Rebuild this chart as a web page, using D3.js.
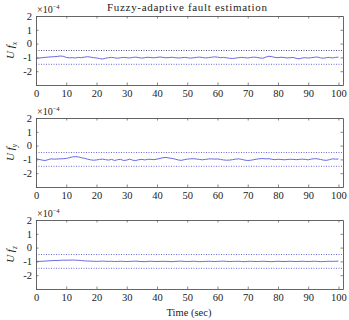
<!DOCTYPE html>
<html lang="en">
  <head>
    <meta charset="UTF-8" />
    <title>Fuzzy-adaptive fault estimation</title>
    <style>
      body { margin: 0; background: #fff; }
      svg text { font-family: "Liberation Serif", "DejaVu Serif", serif; fill: #222; }
    </style>
  </head>
  <body>
    <div id="chart"></div>

    <script src="https://cdn.jsdelivr.net/npm/d3@7"></script>
    <script>

      // time axis (sec), one sample per second
      var time = d3.range(0, 101);

      // estimated fault values, in units of 1e-4
      var ufx = [-1.06,-1.05,-1.02,-1.0,-0.98,-0.96,-0.95,-0.93,-0.9,-0.92,
                 -1.0,-1.03,-1.02,-1.04,-1.0,-1.02,-0.98,-0.95,-0.98,-1.02,
                 -1.04,-1.08,-1.12,-1.06,-1.02,-1.0,-1.03,-1.06,-1.02,-1.0,
                 -1.02,-1.04,-1.0,-0.98,-1.02,-1.05,-1.02,-0.99,-1.01,-1.03,
                 -1.0,-0.97,-1.0,-1.03,-1.01,-0.99,-1.02,-1.04,-1.03,-1.0,
                 -1.02,-1.05,-1.03,-1.0,-0.98,-1.01,-1.04,-1.02,-0.99,-0.96,
                 -0.98,-1.02,-1.0,-1.03,-1.06,-1.08,-1.05,-1.02,-1.0,-1.02,
                 -1.04,-1.01,-0.98,-1.0,-1.04,-1.06,-0.98,-0.92,-0.95,-1.0,
                 -1.02,-0.99,-1.01,-1.04,-1.02,-1.0,-1.07,-1.1,-1.04,-1.02,
                 -1.05,-1.02,-0.99,-0.97,-1.03,-1.06,-1.02,-1.0,-1.04,-1.0,
                 -0.98];
      var ufy = [-0.95,-1.0,-1.05,-1.08,-1.02,-0.96,-0.98,-0.97,-0.96,-0.95,
                 -0.93,-0.88,-0.82,-0.8,-0.82,-0.88,-0.92,-0.98,-1.03,-1.06,
                 -1.04,-1.0,-0.98,-1.02,-1.05,-1.0,-1.08,-1.02,-1.0,-1.08,
                 -1.05,-0.98,-1.06,-1.08,-1.02,-1.0,-1.04,-0.99,-1.0,-1.02,
                 -0.98,-0.93,-0.88,-0.86,-0.9,-0.93,-0.98,-1.04,-1.07,-1.02,
                 -0.98,-0.96,-0.95,-0.97,-1.0,-1.03,-1.0,-0.97,-0.96,-0.98,
                 -0.97,-1.0,-1.04,-1.06,-1.05,-1.02,-0.98,-0.96,-1.0,-1.05,
                 -1.08,-1.06,-1.02,-0.98,-0.95,-0.94,-0.96,-0.95,-0.99,-1.02,
                 -0.99,-1.0,-1.03,-1.01,-0.99,-1.0,-1.02,-1.0,-0.98,-1.0,
                 -1.03,-0.98,-0.95,-0.96,-1.0,-1.05,-1.07,-1.02,-0.96,-0.98,
                 -0.97];
      var ufz = [-1.0,-1.0,-0.99,-0.98,-0.96,-0.95,-0.93,-0.94,-0.92,-0.91,
                 -0.91,-0.91,-0.9,-0.91,-0.92,-0.94,-0.96,-0.97,-0.98,-0.99,
                 -1.0,-0.99,-0.98,-0.99,
                 -1.0,-0.99,-1.01,-1.0,-0.99,-1.0,-1.01,-1.0,-0.99,-0.98,
                 -1.0,-1.01,-1.02,-1.0,-0.99,-1.0,-1.01,-1.0,-0.99,-1.0,
                 -1.01,-1.02,-1.0,-0.99,-0.98,-1.0,-1.01,-1.0,-0.99,-1.0,
                 -1.02,-1.01,-1.0,-0.99,-1.0,-1.01,-1.0,-0.99,-0.98,-1.0,
                 -1.01,-1.0,-1.0,-0.99,-1.01,-1.02,-1.0,-0.99,-1.0,-1.01,
                 -1.0,-0.99,-1.0,-1.01,-1.02,-1.0,-0.99,-1.0,-1.01,-1.0,
                 -0.99,-1.0,-1.01,-1.0,-0.99,-1.0,-1.01,-1.0,-0.99,-1.0,
                 -1.02,-1.01,-1.0,-0.99,-1.0,-0.99,-0.98];

      // bounds drawn as dotted lines
      var bounds = [-0.5, -1.5];

      var series = [ufx, ufy, ufz];
      var subs = ["x", "y", "z"];

      var xTicks = d3.range(0, 101, 10);
      var yTicks = [-3, -2, -1, 0, 1, 2];

      var W = 349, H = 320;
      var margin = { left: 36, right: 6 };
      var tops = [16, 118, 220];
      var ph = 69;
      var w = W - margin.left - margin.right;
      var serif = "'Liberation Serif', 'DejaVu Serif', serif";

      var svg = d3.select("#chart").append("svg")
                  .attr("width", W)
                  .attr("height", H);

      var xScale = d3.scaleLinear()
                     .domain([0, 101.5])
                     .range([margin.left, margin.left + w]);

      var lineCol = "#6a6ae0";

      series.forEach(function(vals, i) {
        var top = tops[i];
        var yScale = d3.scaleLinear()
                       .domain([-3, 2])
                       .range([top + ph, top]);

        var g = svg.append("g").attr("class", "panel");

        // bounds
        bounds.forEach(function(b, j) {
          g.append("line")
           .attr("x1", xScale(0)).attr("x2", xScale(101.5))
           .attr("y1", yScale(b)).attr("y2", yScale(b))
           .attr("stroke", (i == 0 && j == 0) ? "#3a3a78" : "#5a5ad8")
           .attr("stroke-width", 0.9)
           .attr("stroke-dasharray", "1,1.5");
        });

        // estimate
        var line = d3.line()
                     .x(function(d, k) { return xScale(time[k]); })
                     .y(function(d) { return yScale(d); });
        g.append("path")
         .datum(vals.slice(0, time.length))
         .attr("fill", "none")
         .attr("stroke", lineCol)
         .attr("stroke-width", 1)
         .attr("d", line);

        // axes, ticks pointing inward on all sides
        var xB = d3.axisBottom(xScale).tickValues(xTicks).tickSizeInner(-2.5).tickSizeOuter(0).tickPadding(5);
        var xT = d3.axisTop(xScale).tickValues(xTicks).tickSizeInner(-2.5).tickSizeOuter(0).tickFormat("");
        var yL = d3.axisLeft(yScale).tickValues(yTicks).tickSizeInner(-2.5).tickSizeOuter(0).tickPadding(4)
                   .tickFormat(function(d) { return d == -3 ? "" : d; });
        var yR = d3.axisRight(yScale).tickValues(yTicks).tickSizeInner(-2.5).tickSizeOuter(0).tickFormat("");

        g.append("g").attr("transform", "translate(0," + (top + ph) + ")").call(xB);
        g.append("g").attr("transform", "translate(0," + top + ")").call(xT);
        g.append("g").attr("transform", "translate(" + xScale.range()[0] + ",0)").call(yL);
        g.append("g").attr("transform", "translate(" + xScale.range()[1] + ",0)").call(yR);

        g.selectAll(".domain").attr("stroke", "#555").attr("stroke-width", 0.9);
        g.selectAll(".tick line").attr("stroke", "#555").attr("stroke-width", 0.7);
        g.selectAll(".tick text")
         .attr("font-family", serif)
         .attr("font-size", 10.5)
         .attr("fill", "#222");

        // exponent
        var ex = g.append("text")
                  .attr("x", margin.left + 1)
                  .attr("y", top - 3)
                  .attr("font-size", 10);
        ex.append("tspan").text("\u00d710");
        ex.append("tspan").attr("dy", -4).attr("font-size", 6.5).text("\u22124");

        // y label
        var yl = g.append("text")
                  .attr("transform", "translate(14," + (top + ph / 2) + ")rotate(-90)")
                  .attr("text-anchor", "middle")
                  .attr("font-size", 11)
                  .attr("font-style", "italic");
        yl.append("tspan").text("U f");
        yl.append("tspan").attr("dy", 2.5).attr("font-size", 7.5).text(subs[i]);
      });

      svg.append("text")
         .attr("x", 187)
         .attr("y", 11)
         .attr("text-anchor", "middle")
         .attr("font-size", 11)
         .attr("textLength", 160)
         .attr("lengthAdjust", "spacing")
         .text("Fuzzy-adaptive fault estimation");

      svg.append("text")
         .attr("x", 189)
         .attr("y", 316)
         .attr("text-anchor", "middle")
         .attr("font-size", 10.5)
         .text("Time (sec)");

    </script>
  </body>
</html>
